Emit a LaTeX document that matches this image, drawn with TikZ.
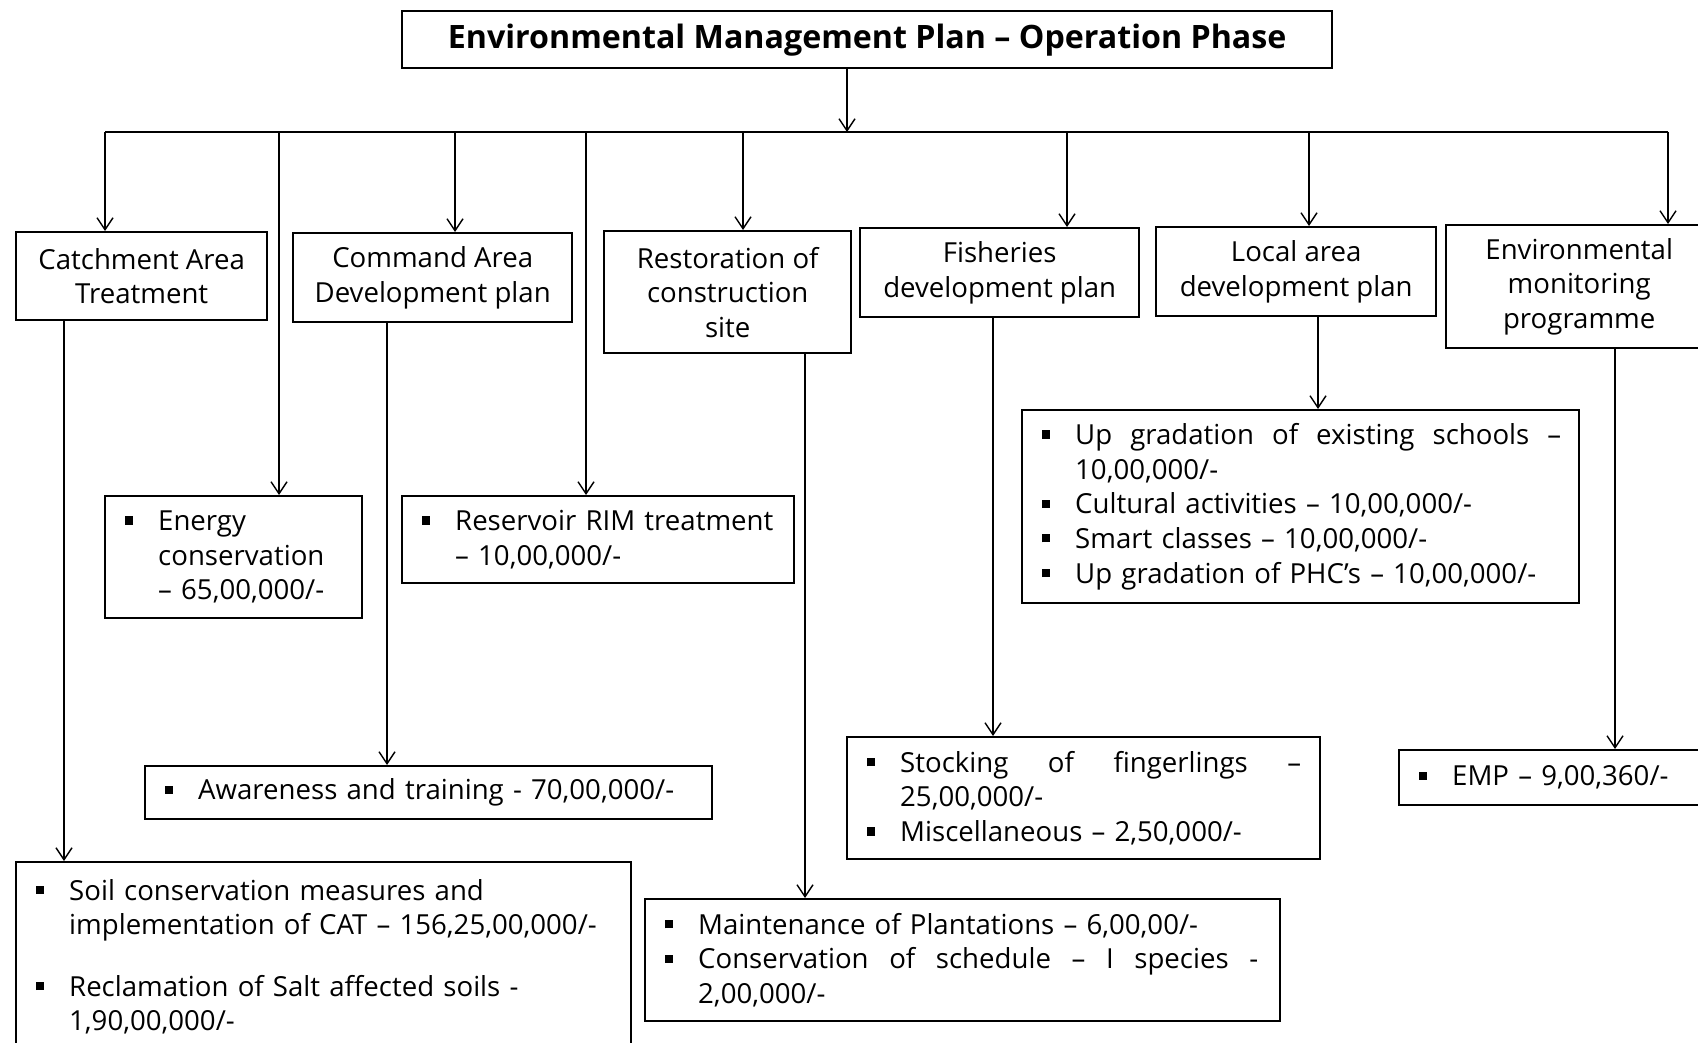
\documentclass[tikz,border=0pt]{standalone}
\usepackage{fontspec}
\setmainfont{Open Sans}
\usetikzlibrary{arrows.meta}
\tikzset{
  hdbox/.style={draw, line width=1.2pt, align=center, inner sep=0pt, anchor=north west},
  lstbox/.style={draw, line width=1.2pt, align=left, inner xsep=10pt, inner ysep=0pt, anchor=north west},
  emparrow/.style={-{Straight Barb[length=6pt,width=8pt]}, line width=0.7pt},
  empline/.style={line width=0.7pt},
}
\newcommand\bul{\makebox[16.5pt][l]{\rule[0.22em]{0.3em}{0.3em}}}
\newcommand\ind{\hspace*{16.5pt}}
\newcommand\spread[2]{\makebox[#1][s]{\spaceskip=.28em plus 1fil\relax #2}}

\begin{document}
\begin{tikzpicture}[x=0.5pt, y=-0.5pt, font=\fontsize{13.8}{17.3}\selectfont]
  \useasboundingbox (0,0) rectangle (1698,1043);
  \clip (0,0) rectangle (1698,1043);
  % Plan
  \node[hdbox, minimum width=465pt, minimum height=28.5pt, font=\fontsize{16.1}{18}\selectfont\bfseries] (plan) at (401,10)
    {Environmental Management Plan – Operation Phase};
  % Bestandteile
  \node[hdbox, minimum width=125.5pt, minimum height=44pt] (catch) at (15,231) {Catchment Area\\Treatment};
  \node[hdbox, minimum width=139.5pt, minimum height=44.5pt] (cad) at (292,232) {Command Area\\Development plan};
  \node[hdbox, minimum width=123.5pt, minimum height=61pt] (rest) at (603,230) {Restoration of\\construction\\site};
  \node[hdbox, minimum width=139.5pt, minimum height=44.5pt] (fish) at (859,227) {Fisheries\\development plan};
  \node[hdbox, minimum width=140pt, minimum height=44.5pt] (lad) at (1155,226) {Local area\\development plan};
  \node[hdbox, minimum width=133pt, minimum height=61.5pt] (mon) at (1445,224) {Environmental\\monitoring\\programme};
  % Kosten
  \node[lstbox, text width=108.5pt, minimum height=61pt] (energy) at (104,495)
    {\bul Energy\\\ind conservation\\\ind – 65,00,000/-};
  \node[lstbox, text width=176pt, minimum height=43.5pt] (rim) at (401,495)
    {\bul\mbox{Reservoir RIM treatment}\\\ind – 10,00,000/-};
  \node[lstbox, text width=263.5pt, minimum height=26.5pt] (aware) at (144,765)
    {\bul\mbox{Awareness and training - 70,00,000/-}};
  \node[lstbox, text width=287.5pt, minimum height=94.5pt] (soil) at (15,861)
    {\bul\mbox{Soil conservation measures and}\\\ind\mbox{implementation of CAT – 156,25,00,000/-}\\[13.5pt]
     \bul\mbox{Reclamation of Salt affected soils -}\\\ind 1,90,00,000/-};
  \node[lstbox, text width=297.5pt, minimum height=61pt] (plant) at (644,898)
    {\bul\mbox{Maintenance of Plantations – 6,00,00/-}\\\bul\spread{280pt}{Conservation of schedule – I species -}\\\ind 2,00,000/-};
  \node[lstbox, text width=258.5pt, minimum height=96.5pt] (ladl) at (1021,409)
    {\bul\spread{243pt}{Up gradation of existing schools –}\\\ind 10,00,000/-\\
     \bul\mbox{Cultural activities – 10,00,000/-}\\\bul\mbox{Smart classes – 10,00,000/-}\\
     \bul\mbox{Up gradation of PHC’s – 10,00,000/-}};
  \node[lstbox, text width=216.5pt, minimum height=61pt] (stock) at (846,736)
    {\bul\spread{200.5pt}{Stocking of fingerlings –}\\\ind 25,00,000/-\\\bul\mbox{Miscellaneous – 2,50,000/-}};
  \node[lstbox, text width=141pt, minimum height=27.5pt] (emp) at (1398,749) {\bul\mbox{EMP – 9,00,360/-}};
  % Verbindungen
  \coordinate (top) at (847,132);
  \foreach \n/\x in {1/105,2/279,3/455,4/586,5/743,6/1067,7/1309,8/1668}
    \coordinate (b\n) at (\x,132);
  \draw[emparrow] (top |- plan.south) -- (top);
  \draw[empline] (b1) -- (b8);
  \foreach \b/\t in {b1/catch,b2/energy,b3/cad,b4/rim,b5/rest,b6/fish,b7/lad,b8/mon}
    \draw[emparrow] (\b) -- (\b |- \t.north);
  \foreach \s/\t/\x in {catch/soil/64,cad/aware/387,rest/plant/805,fish/stock/993,lad/ladl/1318,mon/emp/1615}{
    \coordinate (c) at (\x,0);
    \draw[emparrow] (\s.south -| c) -- (\t.north -| c);
  }
\end{tikzpicture}
\end{document}
